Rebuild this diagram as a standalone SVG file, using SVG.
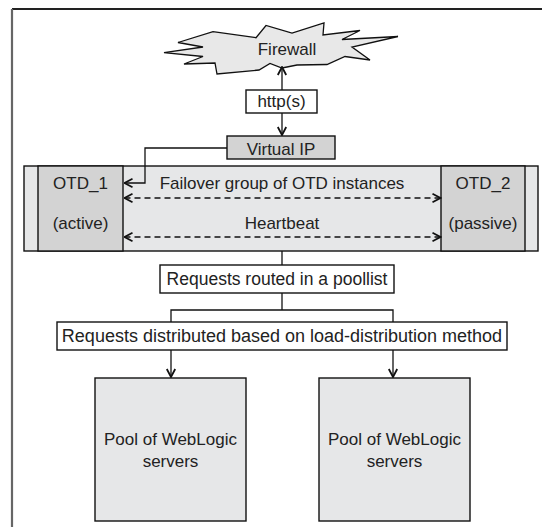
<svg xmlns="http://www.w3.org/2000/svg" width="542" height="527" viewBox="0 0 542 527">
<style>
text{font-family:"Liberation Sans",Arial,sans-serif;font-size:17px;fill:#222;text-anchor:middle}
.box{stroke:#111;stroke-width:1.4}
.light{fill:#e6e7e8}
.dark{fill:#d3d3d3}
.white{fill:#fff}
.ln{stroke:#111;stroke-width:1.3;fill:none}
.dash{stroke-dasharray:6,4}
</style>
<defs>
<marker id="ah" viewBox="0 0 10 10" refX="9" refY="5" markerWidth="10" markerHeight="10" markerUnits="userSpaceOnUse" orient="auto-start-reverse">
<path d="M1,0.8 L9,5 L1,9.2" fill="none" stroke="#111" stroke-width="1.8"/>
</marker>
</defs>
<rect width="542" height="527" fill="#fff"/>
<g id="frame">
<line x1="12" y1="9" x2="542" y2="9" stroke="#222" stroke-width="2"/>
<line x1="12" y1="9" x2="12" y2="527" stroke="#666" stroke-width="2.2"/>
</g>
<g id="firewall">
<polygon points="164,52.7 203,47 178,42.5 213,31.7 256,37.7 266,25.5 292,33 324,23 323,35 360,30.5 342,39.5 398,36.5 352,47 370,60 345,56.5 327,64.5 297,65 282,68 270,63.5 259,70 217,74 215,63 184,64 203,56.5" fill="#e8e8e8" stroke="#111" stroke-width="1.3"/>
<text x="287" y="55">Firewall</text>
</g>
<g id="https">
<rect class="box white" x="246" y="90" width="71" height="23"/>
<text x="281.5" y="107">http(s)</text>
</g>
<g id="virtual-ip">
<rect class="box dark" x="227" y="136" width="108" height="23"/>
<text x="281" y="155">Virtual IP</text>
</g>
<g id="failover-group">
<rect class="box light" x="24" y="166" width="514" height="85"/>
<text x="282" y="189">Failover group of OTD instances</text>
<text x="282" y="229">Heartbeat</text>
</g>
<g id="otd1">
<rect class="box dark" x="38" y="166" width="85" height="85"/>
<text x="80.5" y="189">OTD_1</text>
<text x="80.5" y="229">(active)</text>
</g>
<g id="otd2">
<rect class="box dark" x="441" y="166" width="84" height="85"/>
<text x="483" y="189">OTD_2</text>
<text x="483" y="229">(passive)</text>
</g>
<g id="poollist">
<rect class="box white" x="160" y="265" width="234" height="28"/>
<text x="277" y="285" style="font-size:17.5px">Requests routed in a poollist</text>
</g>
<g id="distributed">
<rect class="box white" x="57" y="322" width="450" height="28"/>
<text x="282" y="342" style="font-size:18px">Requests distributed based on load-distribution method</text>
</g>
<g id="pool1">
<rect class="box light" x="95" y="378" width="151" height="143"/>
<text x="170.5" y="445">Pool of WebLogic</text>
<text x="170.5" y="467">servers</text>
</g>
<g id="pool2">
<rect class="box light" x="319" y="378" width="151" height="143"/>
<text x="394.5" y="445">Pool of WebLogic</text>
<text x="394.5" y="467">servers</text>
</g>
<g id="connectors">
<line class="ln" x1="282" y1="90" x2="282" y2="67" marker-end="url(#ah)"/>
<line class="ln" x1="282" y1="113" x2="282" y2="135" marker-end="url(#ah)"/>
<polyline class="ln" points="227,148 145,148 145,183 124.5,183" marker-end="url(#ah)"/>
<line class="ln dash" x1="124.5" y1="198" x2="440.5" y2="198" marker-start="url(#ah)" marker-end="url(#ah)"/>
<line class="ln dash" x1="124.5" y1="237" x2="440.5" y2="237" marker-start="url(#ah)" marker-end="url(#ah)"/>
<line class="ln" x1="282" y1="251" x2="282" y2="265"/>
<line class="ln" x1="282" y1="293" x2="282" y2="310"/>
<polyline class="ln" points="171,322 171,310 393,310 393,322"/>
<line class="ln" x1="171" y1="350" x2="171" y2="377" marker-end="url(#ah)"/>
<line class="ln" x1="393" y1="350" x2="393" y2="377" marker-end="url(#ah)"/>
</g>
</svg>
